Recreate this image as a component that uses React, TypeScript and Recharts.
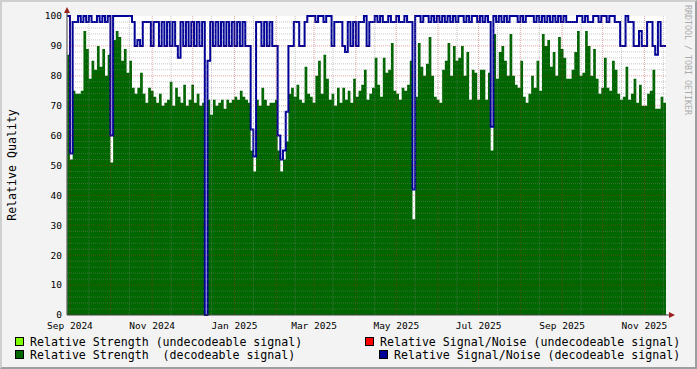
import { ComposedChart, Area, Line, XAxis, YAxis, CartesianGrid } from "recharts"

// days counted from 1 Sep 2024, one value every 2 days
const startDay = -2
const stepDays = 2

const strengthValues = [
  87, 52, 75, 74, 74, 75, 95, 89, 79, 85, 82, 90, 83, 89, 80, 87, 51, 92, 95, 93, 85, 89, 81, 85, 76, 74, 76, 81, 74, 71, 76, 75, 73, 71, 74, 70,
  71, 72, 78, 70, 76, 73, 71, 77, 70, 72, 77, 71, 74, 70, 71, 0, 72, 67, 72, 70, 71, 72, 69, 72, 71, 72, 73, 72, 75, 73, 72, 71, 55, 48, 72,
  70, 76, 72, 70, 71, 71, 72, 55, 48, 52, 58, 74, 76, 73, 77, 72, 71, 83, 74, 73, 71, 80, 85, 74, 87, 79, 72, 74, 70, 76, 71, 76, 72, 75, 71, 79, 73, 75, 77,
  82, 72, 74, 76, 86, 77, 73, 86, 81, 82, 91, 75, 74, 72, 76, 75, 77, 85, 32, 73, 91, 83, 80, 84, 93, 80, 73, 72, 71, 82, 85, 91, 80, 90, 85, 86, 90,
  80, 88, 72, 82, 81, 72, 82, 82, 72, 81, 55, 94, 79, 88, 90, 85, 80, 94, 80, 77, 76, 85, 73, 71, 74, 80, 76, 85, 75, 94, 90, 92, 83, 88, 80, 93, 89,
  86, 79, 79, 82, 88, 95, 80, 81, 95, 90, 80, 89, 79, 74, 76, 86, 76, 75, 85, 82, 74, 72, 73, 83, 72, 74, 79, 71, 77, 70, 70, 74, 75, 82, 69, 69, 73, 71, 70,
]

const signalNoiseValues = [
  100, 54, 98, 98, 100, 98, 100, 98, 100, 98, 98, 100, 98, 100, 98, 100, 60, 100, 100, 100, 100, 100, 100, 100, 98, 90, 92, 90, 98, 98, 98, 90, 98, 98, 90, 98,
  90, 98, 90, 98, 90, 86, 98, 90, 98, 90, 98, 90, 98, 90, 98, 0, 85, 98, 90, 98, 90, 98, 90, 98, 90, 98, 90, 98, 90, 98, 90, 90, 62, 53, 98,
  98, 90, 98, 90, 98, 90, 90, 60, 52, 55, 68, 90, 90, 98, 98, 90, 90, 98, 100, 100, 100, 98, 100, 100, 98, 100, 100, 90, 98, 98, 98, 90, 88, 98, 90, 98, 90, 98, 98,
  100, 90, 98, 98, 100, 98, 100, 98, 98, 100, 98, 98, 100, 98, 98, 100, 98, 98, 42, 100, 100, 98, 100, 100, 98, 100, 98, 100, 98, 100, 98, 100, 98, 100, 98, 100, 100,
  98, 100, 98, 100, 100, 98, 100, 98, 100, 98, 63, 100, 98, 100, 98, 100, 98, 100, 100, 100, 98, 100, 98, 100, 100, 100, 98, 100, 98, 100, 98, 100, 98, 100, 98, 100, 98,
  100, 98, 98, 98, 98, 100, 100, 98, 100, 98, 98, 100, 100, 98, 100, 100, 98, 100, 100, 98, 98, 90, 90, 100, 98, 98, 90, 90, 95, 90, 90, 98, 98, 90, 87, 98, 90, 90, 90,
]

const labelDays = [0, 61, 122, 181, 242, 303, 365, 426]
const labelNames = ["Sep 2024", "Nov 2024", "Jan 2025", "Mar 2025", "May 2025", "Jul 2025", "Sep 2025", "Nov 2025"]
const monthStartDays = [0, 30, 61, 91, 122, 153, 181, 212, 242, 273, 303, 334, 365, 395, 426]
const midMonthDays = [14, 44, 75, 105, 136, 167, 195, 226, 256, 287, 317, 348, 379, 409, 440]
const yTicks = [0, 10, 20, 30, 40, 50, 60, 70, 80, 90, 100]
const yMajor = [10, 20, 30, 40, 50, 60, 70, 80, 90]
const yMinor = [2, 4, 6, 8, 12, 14, 16, 18, 22, 24, 26, 28, 32, 34, 36, 38, 42, 44, 46, 48, 52, 54, 56, 58, 62, 64, 66, 68, 72, 74, 76, 78, 82, 84, 86, 88, 92, 94, 96, 98]

const legendRows = [
  [
    { color: "#80ff00", label: "Relative Strength (undecodeable signal)", left: 15 },
    { color: "#ff0000", label: "Relative Signal/Noise (undecodeable signal)", left: 365 },
  ],
  [
    { color: "#006600", label: "Relative Strength  (decodeable signal)", left: 15 },
    { color: "#000099", label: "Relative Signal/Noise (decodeable signal)", left: 379 },
  ],
]

const mono = "'DejaVu Sans Mono', monospace"
const xDomain = [-2.2, 442]
const hiddenTick = { fontSize: 1, fill: "none" }

// transparent copy of the plot area, only used to lay the dotted grid over the data
function GridLayer({ data, yValues, xValues, stroke }: { data: any[]; yValues: number[]; xValues: number[]; stroke: string }) {
  return (
    <div style={{ position: "absolute", left: 0, top: 0, pointerEvents: "none" }}>
      <ComposedChart width={697} height={369} data={data} margin={{ top: 16, right: 31, bottom: 54, left: 67 }}>
        <XAxis type="number" dataKey="day" domain={xDomain} allowDataOverflow ticks={xValues} tick={hiddenTick} tickLine={false} axisLine={false} height={0} interval={0} />
        <YAxis type="number" domain={[0, 100]} allowDataOverflow ticks={yValues} tick={hiddenTick} tickLine={false} axisLine={false} width={0} interval={0} />
        <CartesianGrid stroke={stroke} strokeDasharray="1 1" horizontalValues={yValues} verticalValues={xValues} />
        <Line dataKey="strength" stroke="none" dot={false} activeDot={false} isAnimationActive={false} />
      </ComposedChart>
    </div>
  )
}

export default function App() {
  const data = strengthValues.map((v, i) => ({
    day: startDay + i * stepDays,
    strength: v,
    snr: signalNoiseValues[i],
  }))

  return (
    <div style={{ position: "relative", width: 697, height: 369, background: "#f3f3f3", fontFamily: mono, overflow: "hidden" }}>
      <style>{`body{margin:0}`}</style>
      <ComposedChart width={697} height={369} data={data} margin={{ top: 16, right: 31, bottom: 34, left: 0 }}>
        <CartesianGrid horizontal={false} vertical={false} fill="#ffffff" fillOpacity={1} />
        <XAxis
          type="number"
          dataKey="day"
          domain={xDomain}
          allowDataOverflow
          ticks={labelDays}
          tickFormatter={(d: number) => labelNames[labelDays.indexOf(d)] ?? ""}
          height={20}
          tickLine={false}
          tickSize={0}
          tickMargin={7}
          axisLine={{ stroke: "#404040" }}
          tick={{ fontSize: 9.5, fill: "#000", fontFamily: mono }}
          interval={0}
        />
        <YAxis
          width={67}
          domain={[0, 100]}
          ticks={yTicks}
          tickLine={false}
          tickSize={0}
          tickMargin={5}
          axisLine={{ stroke: "#404040" }}
          tick={{ fontSize: 9.5, fill: "#000", fontFamily: mono }}
          interval={0}
        />
        <Area
          type="stepAfter"
          dataKey="strength"
          stroke="none"
          fill="#006600"
          fillOpacity={1}
          isAnimationActive={false}
          dot={false}
        />
        <Line
          type="stepAfter"
          dataKey="snr"
          stroke="#000099"
          strokeWidth={2}
          dot={false}
          isAnimationActive={false}
        />
      </ComposedChart>

      <GridLayer data={data} yValues={yMinor} xValues={midMonthDays} stroke="rgba(130,130,130,0.45)" />
      <GridLayer data={data} yValues={yMajor} xValues={monthStartDays} stroke="rgba(190,40,40,0.4)" />

      <svg width={697} height={369} style={{ position: "absolute", left: 0, top: 0, pointerEvents: "none" }}>
        <text
          x={12}
          y={165}
          transform="rotate(-90 12 165)"
          textAnchor="middle"
          dominantBaseline="central"
          fontFamily={mono}
          fontSize={11.6}
          fill="#000"
        >
          Relative Quality
        </text>
        <text
          x={688}
          y={5}
          transform="rotate(90 688 5)"
          dominantBaseline="central"
          fontFamily={mono}
          fontSize={8.3}
          fill="#ababab"
        >
          RRDTOOL / TOBI OETIKER
        </text>
        <line x1={67} y1={16} x2={67} y2={11} stroke="#404040" />
        <line x1={666} y1={315} x2={671} y2={315} stroke="#404040" />
        <polygon points="67,7 64,13 70,13" fill="#9b2020" />
        <polygon points="675,315 669,312 669,318" fill="#9b2020" />
      </svg>

      {legendRows.map((row, r) =>
        row.map((item) => (
          <div
            key={item.label}
            style={{
              position: "absolute",
              left: item.left,
              top: 335 + r * 13,
              height: 13,
              display: "flex",
              alignItems: "center",
              whiteSpace: "pre",
              fontSize: 11.6,
              color: "#000",
            }}
          >
            <span style={{ display: "inline-block", width: 7, height: 7, background: item.color, border: "1px solid #000", marginRight: 6 }} />
            {item.label}
          </div>
        ))
      )}

      <div
        style={{
          position: "absolute",
          inset: 0,
          boxSizing: "border-box",
          borderTop: "2px solid #cfcfcf",
          borderLeft: "2px solid #cfcfcf",
          borderRight: "2px solid #9e9e9e",
          borderBottom: "2px solid #9e9e9e",
          pointerEvents: "none",
        }}
      />
    </div>
  )
}
